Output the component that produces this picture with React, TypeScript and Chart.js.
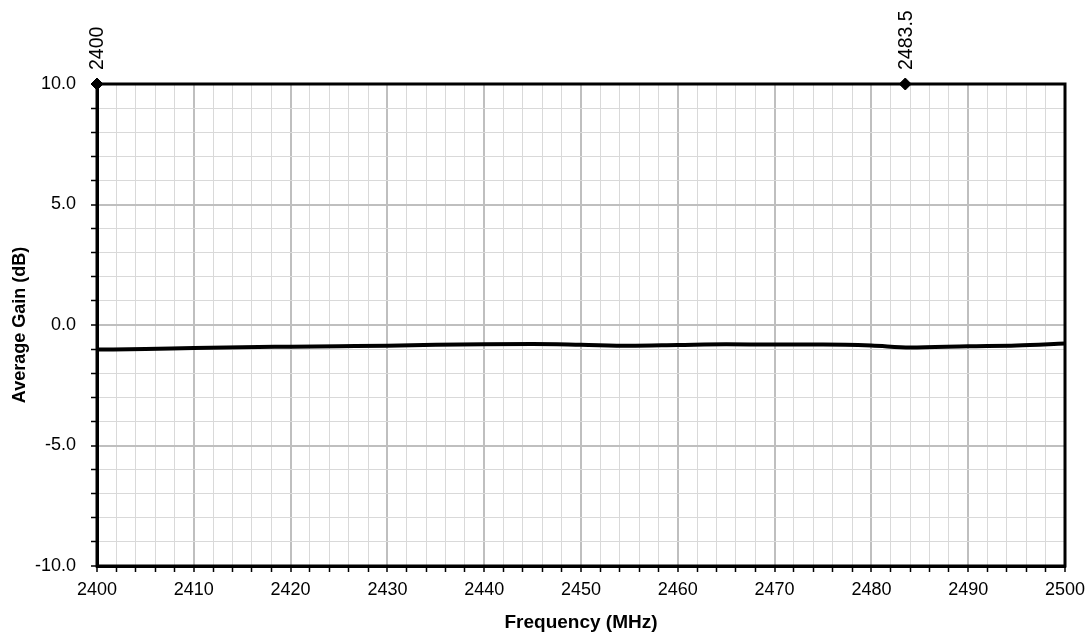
import React, { useEffect, useRef } from "react";
import { Chart, registerables } from "chart.js";

Chart.register(...registerables);

const freqs = [2400, 2405, 2410, 2415, 2420, 2425, 2430, 2435, 2440, 2445, 2450, 2455, 2460, 2465, 2470, 2475, 2480, 2484, 2490, 2495, 2500];
const gains = [-1.02, -1.0, -0.95, -0.92, -0.9, -0.88, -0.86, -0.82, -0.8, -0.79, -0.82, -0.86, -0.83, -0.8, -0.81, -0.81, -0.85, -0.93, -0.88, -0.85, -0.77];
const markerFreqs = [2400, 2483.5];
const markerLabels = ["2400", "2483.5"];
const markerGain = 10;

const FONT = "'Liberation Sans', Arial, sans-serif";

export default function App() {
  const ref = useRef<HTMLCanvasElement | null>(null);
  useEffect(() => {
    document.body.style.margin = "0";
    const canvas = ref.current!;
    const framePlugin = {
      id: "frame",
      beforeDatasetsDraw(chart: any) {
        const { ctx, chartArea: a } = chart;
        ctx.save();
        ctx.strokeStyle = "#000";
        ctx.lineWidth = 3;
        ctx.strokeRect(a.left, a.top, a.right - a.left, a.bottom - a.top);
        ctx.restore();
      },
    };
    const markerLabelPlugin = {
      id: "markerLabels",
      afterDatasetsDraw(chart: any) {
        const meta = chart.getDatasetMeta(1);
        const { ctx } = chart;
        ctx.save();
        ctx.fillStyle = "#000";
        ctx.font = `19.5px ${FONT}`;
        ctx.textAlign = "left";
        ctx.textBaseline = "middle";
        meta.data.forEach((p: any, i: number) => {
          ctx.save();
          ctx.translate(p.x + 1, p.y - 14);
          ctx.rotate(-Math.PI / 2);
          ctx.fillText(markerLabels[i], 0, 0);
          ctx.restore();
        });
        ctx.restore();
      },
    };
    const chart = new Chart(canvas, {
      type: "line",
      data: {
        datasets: [
          {
            data: freqs.map((f, i) => ({ x: f, y: gains[i] })),
            borderColor: "#000",
            borderWidth: 4,
            pointRadius: 0,
            cubicInterpolationMode: "monotone",
            fill: false,
          },
          {
            data: markerFreqs.map((f) => ({ x: f, y: markerGain })),
            showLine: false,
            pointStyle: "rectRot",
            pointRadius: 6,
            pointBackgroundColor: "#000",
            pointBorderColor: "#000",
            clip: false,
          } as any,
        ],
      },
      options: {
        animation: false,
        responsive: false,
        maintainAspectRatio: false,
        layout: { padding: { top: 84, right: 24, left: 0, bottom: 0 } },
        plugins: { legend: { display: false }, tooltip: { enabled: false } },
        scales: {
          x: {
            type: "linear",
            min: 2400,
            max: 2500,
            afterFit(s: any) { s.height = 73; s.paddingLeft = 0; s.paddingRight = 0; },
            ticks: {
              stepSize: 2,
              autoSkip: false,
              maxRotation: 0,
              padding: 7,
              color: "#000",
              font: { family: FONT, size: 18 },
              callback: (v: any) => (Math.round(v) % 10 === 0 ? String(v) : ""),
            },
            grid: {
              color: (c: any) => (Math.round(c.tick.value) % 10 === 0 ? "#bfbfbf" : "#d9d9d9"),
              lineWidth: (c: any) => (Math.round(c.tick.value) % 10 === 0 ? 2 : 1),
              tickColor: "#000",
              tickWidth: 1.5,
              tickLength: 6,
            },
            border: { color: "#000", width: 3 },
            title: {
              display: true,
              text: "Frequency (MHz)",
              color: "#000",
              font: { family: FONT, size: 19, weight: "bold" },
              padding: { top: 0, bottom: 5 },
            },
          },
          y: {
            type: "linear",
            min: -10,
            max: 10,
            afterFit(s: any) { s.width = 97; s.paddingTop = 0; s.paddingBottom = 0; },
            ticks: {
              stepSize: 1,
              autoSkip: false,
              padding: 15,
              color: "#000",
              font: { family: FONT, size: 18 },
              callback: (v: any) => (Math.round(v) % 5 === 0 ? Number(v).toFixed(1) : ""),
            },
            grid: {
              color: (c: any) => (Math.round(c.tick.value) % 5 === 0 ? "#bfbfbf" : "#d9d9d9"),
              lineWidth: (c: any) => (Math.round(c.tick.value) % 5 === 0 ? 2 : 1),
              tickColor: "#000",
              tickWidth: 1.5,
              tickLength: 6,
            },
            border: { color: "#000", width: 3 },
            title: {
              display: true,
              text: "Average Gain (dB)",
              color: "#000",
              font: { family: FONT, size: 18, weight: "bold" },
              padding: { top: 9, bottom: 0 },
            },
          },
        },
      },
      plugins: [framePlugin, markerLabelPlugin],
    } as any);
    return () => chart.destroy();
  }, []);
  return (
    <div style={{ width: 1089, height: 639 }}>
      <canvas ref={ref} width={1089} height={639} style={{ display: "block" }} />
    </div>
  );
}
